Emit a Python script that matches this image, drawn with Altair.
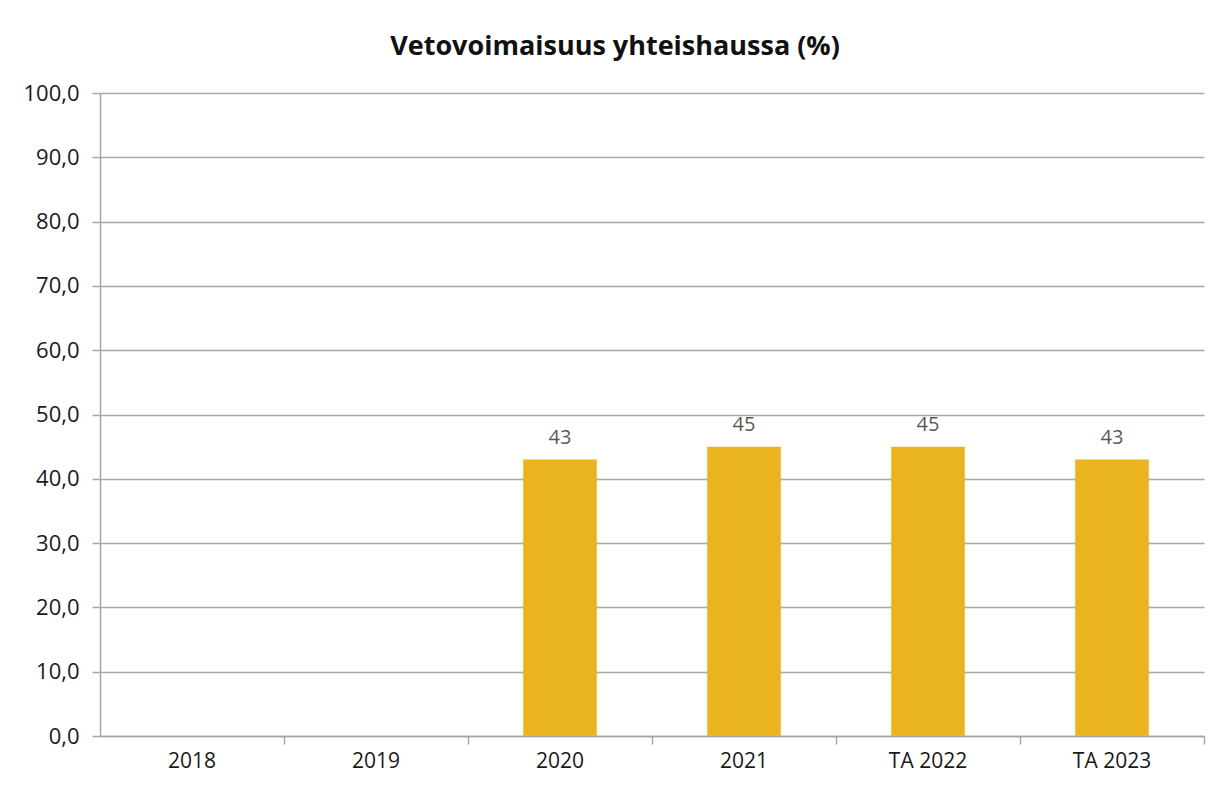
import altair as alt
import pandas as pd

categories = ["2018", "2019", "2020", "2021", "TA 2022", "TA 2023"]
values = [None, None, 43, 45, 45, 43]
labels = ["", "", "43", "45", "45", "43"]

df = pd.DataFrame({"cat": categories, "val": values, "lab": labels})

FONT = "Open Sans"
GRID = "#A6A6A6"

x_scale = alt.Scale(domain=categories, paddingInner=0.6, paddingOuter=0.3)
y_scale = alt.Scale(domain=[0, 100])

y_axis = alt.Axis(values=list(range(0, 101, 10)),
                  labelExpr="replace(format(datum.value, '.1f'), '.', ',')",
                  labelFont=FONT, labelFontSize=22, labelColor="#1a1a1a",
                  tickColor=GRID, tickSize=8, tickWidth=1.5,
                  domainColor=GRID, domainWidth=1.5,
                  gridColor=GRID, gridWidth=1.5, labelPadding=13, title=None)

base = alt.Chart(df)

bars = base.mark_bar(color="#EBB520").encode(
    x=alt.X("cat:N", scale=x_scale, sort=categories, title=None,
            axis=alt.Axis(labelAngle=0, ticks=False, domain=True, domainColor=GRID,
                          domainWidth=1.5, labelFont=FONT, labelFontSize=21,
                          labelColor="#1a1a1a", labelPadding=14, grid=False,
                          orient="bottom")),
    y=alt.Y("val:Q", scale=y_scale, title=None, axis=y_axis),
)

text = base.mark_text(dy=-22, font=FONT, fontSize=20, color="#595959").encode(
    x=alt.X("cat:N", scale=x_scale, sort=categories, axis=None),
    y=alt.Y("val:Q", scale=y_scale, title=None, axis=y_axis),
    text="lab:N",
)

ticks_layer = base.mark_point(opacity=0).encode(
    x=alt.X("cat:N", scale=x_scale, sort=categories, title=None,
            axis=alt.Axis(bandPosition=1.75, labels=False, domain=False, ticks=True,
                          tickColor=GRID, tickSize=8, tickWidth=1.5, grid=False,
                          orient="bottom", title=None)),
    y=alt.Y("val:Q", scale=y_scale, title=None, axis=y_axis),
)

chart = alt.layer(bars, text, ticks_layer).resolve_axis(x="independent").properties(
    width=1104,
    height=643,
    title=alt.TitleParams("Vetovoimaisuus yhteishaussa (%)", font=FONT, fontSize=27,
                          fontWeight="bold", color="#111111", anchor="middle",
                          offset=21, dx=-37),
    autosize=alt.AutoSizeParams(type="none"),
    padding={"left": 92, "top": 85, "right": 14, "bottom": 43},
    background="white",
).configure_view(stroke=None)

chart.save("out.html", embed_options={"renderer": "svg", "actions": False})
